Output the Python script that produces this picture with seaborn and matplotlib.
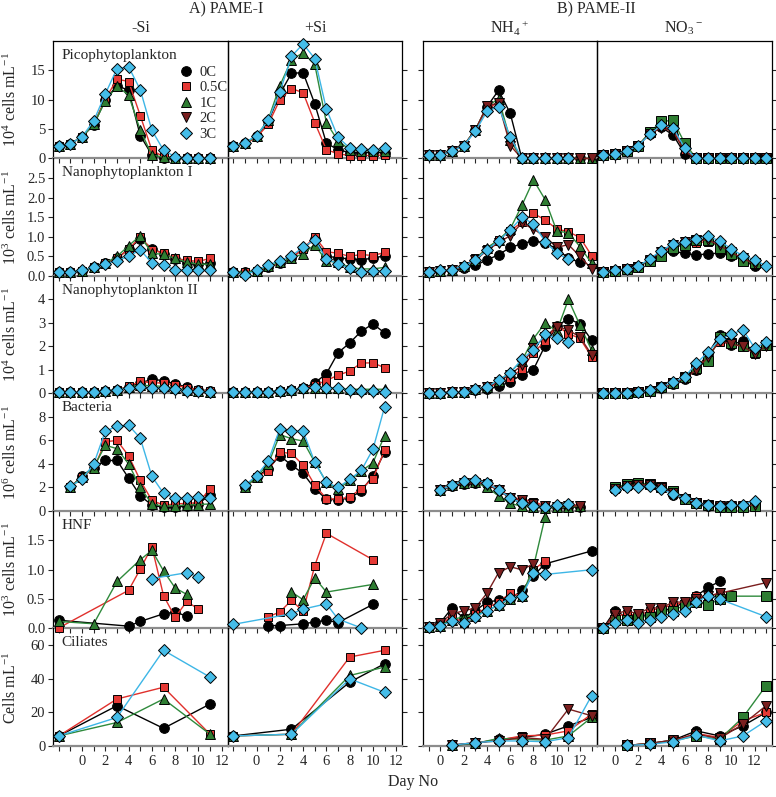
import numpy as np
import pandas as pd
import matplotlib
matplotlib.use("Agg")
import matplotlib.pyplot as plt
import seaborn as sns
from matplotlib.lines import Line2D
from matplotlib.ticker import FixedLocator, MultipleLocator, FormatStrFormatter

sns.set_style("ticks")
plt.rcParams['font.family'] = ['Liberation Serif', 'DejaVu Serif']
plt.rcParams['mathtext.fontset'] = 'custom'
plt.rcParams['mathtext.rm'] = 'Liberation Serif'
plt.rcParams['mathtext.it'] = 'Liberation Serif:italic'
plt.rcParams['mathtext.bf'] = 'Liberation Serif:bold'

nan = np.nan
treatments = ['0C', '0.5C', '1C', '2C', '3C']
days_pame1 = list(range(-2, 12))
days_pame2 = list(range(-1, 14))
no2c = [nan] * 14   # 2C not run in PAME-I

# each panel: rows = 0C, 0.5C, 1C, 2C, 3C
pico_msi = [[2.1, 2.5, 3.7, 5.7, 10.0, 12.4, 11.6, 3.9, 0.6, 0.1, 0, 0, 0, 0],
            [2.1, 2.5, 3.7, 5.9, 10.1, 13.5, 13.1, 7.3, 1.4, 0.3, 0.1, 0, 0, 0],
            [2.1, 2.5, 3.7, 5.8, 9.8, 12.3, 10.8, 4.8, 0.6, 0.2, 0, 0, 0, 0],
            no2c,
            [2.1, 2.5, 3.7, 6.4, 11.0, 15.3, 15.6, 11.7, 4.8, 1.4, 0.3, 0.05, 0, 0]]
pico_psi = [[2.1, 2.6, 3.8, 6.3, 11.0, 14.5, 14.6, 9.3, 2.6, 1.5, 1.0, 1.0, 1.0, 1.0],
            [2.1, 2.5, 3.6, 5.8, 10.0, 11.9, 11.2, 6.1, 1.5, 0.8, 0.5, 0.5, 0.5, 0.6],
            [2.1, 2.6, 3.8, 6.6, 12.4, 16.8, 18.0, 16.0, 6.1, 3.0, 1.5, 1.3, 1.3, 1.3],
            no2c,
            [2.2, 2.7, 3.9, 6.5, 11.3, 17.4, 19.5, 17.0, 8.4, 3.6, 1.8, 1.6, 1.5, 1.7]]
pico_nh4 = [[0.6, 0.6, 1.2, 2.2, 4.8, 8.8, 11.6, 7.7, 0, 0, 0, 0, 0, 0, nan],
            [0.6, 0.6, 1.2, 2.2, 4.8, 8.5, 9.5, 3.0, 0, 0, 0, 0, 0, 0, 0],
            [0.6, 0.6, 1.2, 2.2, 4.9, 8.8, 10.2, 3.2, 0, 0, 0, 0, 0, 0, 0],
            [0.6, 0.6, 1.2, 2.2, 4.8, 9.0, 9.4, 2.2, 0, 0, 0, 0, 0, 0, 0],
            [0.6, 0.6, 1.2, 2.2, 4.6, 8.0, 8.8, 3.7, 0, 0, 0, 0, 0, nan, nan]]
pico_no3 = [[0.6, 0.7, 1.2, 2.2, 4.2, 5.3, 4.0, 0.8, 0, 0, 0, 0, 0, 0, 0],
            [0.6, 0.7, 1.2, 2.2, 4.3, 5.5, 5.0, 1.5, 0, 0, 0, 0, 0, 0, 0],
            [0.6, 0.7, 1.2, 2.2, 4.5, 6.3, 6.5, 2.6, 0, 0, 0, 0, 0, 0, 0],
            [0.6, 0.7, 1.2, 2.2, 4.2, 5.2, 4.6, 1.2, 0, 0, 0, 0, 0, 0, 0],
            [0.6, 0.7, 1.2, 2.2, 4.1, 5.7, 5.2, 1.8, 0, 0, 0, 0, 0, 0, 0]]

nano1_msi = [[0.11, 0.11, 0.13, 0.22, 0.33, 0.45, 0.68, 0.95, 0.7, 0.57, 0.43, 0.33, 0.3, 0.32],
             [0.11, 0.11, 0.13, 0.22, 0.33, 0.45, 0.68, 1.0, 0.67, 0.58, 0.45, 0.4, 0.37, 0.45],
             [0.11, 0.11, 0.13, 0.22, 0.33, 0.5, 0.77, 1.03, 0.58, 0.55, 0.45, 0.35, 0.3, 0.3],
             no2c,
             [0.11, 0.11, 0.14, 0.22, 0.31, 0.39, 0.5, 0.67, 0.33, 0.29, 0.15, 0.14, 0.16, 0.14]]
nano1_psi = [[0.11, 0.09, 0.13, 0.22, 0.33, 0.45, 0.7, 0.95, 0.5, 0.47, 0.43, 0.42, 0.45, 0.52],
             [0.11, 0.09, 0.13, 0.22, 0.33, 0.45, 0.7, 1.0, 0.62, 0.58, 0.5, 0.55, 0.52, 0.6],
             [0.11, 0.09, 0.13, 0.25, 0.35, 0.45, 0.57, 0.8, 0.38, 0.35, 0.22, 0.18, 0.18, 0.22],
             no2c,
             [0.11, 0.03, 0.14, 0.28, 0.39, 0.52, 0.73, 0.93, 0.43, 0.31, 0.2, 0.11, 0.13, 0.13]]
nano1_nh4 = [[0.11, 0.12, 0.14, 0.2, 0.27, 0.41, 0.54, 0.73, 0.82, 0.9, 0.84, 0.7, 0.45, 0.35, nan],
             [0.11, 0.13, 0.15, 0.25, 0.45, 0.7, 0.92, 1.15, 1.37, 1.6, 1.43, 1.2, 1.13, 0.98, 0.52],
             [0.11, 0.13, 0.16, 0.25, 0.42, 0.72, 0.92, 1.2, 1.8, 2.45, 1.95, 1.15, 1.1, 0.75, 0.32],
             [0.11, 0.13, 0.15, 0.24, 0.4, 0.65, 0.85, 1.03, 1.35, 1.2, 1.0, 0.73, 0.8, 0.5, 0.18],
             [0.11, 0.14, 0.16, 0.26, 0.41, 0.67, 0.9, 1.17, 1.5, 1.33, 0.88, 0.58, 0.43, nan, nan]]
nano1_no3 = [[0.11, 0.13, 0.17, 0.24, 0.4, 0.58, 0.63, 0.58, 0.53, 0.57, 0.58, 0.52, 0.4, 0.25, nan],
             [0.11, 0.13, 0.17, 0.24, 0.4, 0.6, 0.75, 0.8, 0.85, 0.88, 0.8, 0.6, 0.45, 0.3, nan],
             [0.11, 0.13, 0.17, 0.24, 0.38, 0.52, 0.72, 0.8, 0.93, 0.93, 0.72, 0.55, 0.37, 0.32, nan],
             [0.11, 0.13, 0.17, 0.24, 0.42, 0.62, 0.8, 0.88, 0.9, 0.92, 0.78, 0.6, 0.45, 0.3, nan],
             [0.11, 0.14, 0.18, 0.25, 0.44, 0.65, 0.82, 0.86, 0.95, 1.01, 0.9, 0.69, 0.52, 0.41, 0.26]]

nano2_msi = [[0.07, 0.07, 0.07, 0.08, 0.12, 0.15, 0.28, 0.45, 0.6, 0.55, 0.4, 0.28, 0.15, 0.12],
             [0.07, 0.07, 0.07, 0.08, 0.12, 0.15, 0.3, 0.52, 0.45, 0.45, 0.35, 0.25, 0.15, 0.1],
             [0.07, 0.07, 0.07, 0.08, 0.12, 0.15, 0.27, 0.35, 0.33, 0.3, 0.22, 0.15, 0.1, 0.08],
             no2c,
             [0.07, 0.07, 0.07, 0.08, 0.12, 0.15, 0.25, 0.27, 0.25, 0.25, 0.17, 0.12, 0.1, 0.07]]
nano2_psi = [[0.07, 0.07, 0.07, 0.08, 0.12, 0.15, 0.22, 0.45, 0.84, 1.73, 2.15, 2.65, 2.96, 2.58],
             [0.07, 0.07, 0.07, 0.08, 0.12, 0.15, 0.22, 0.35, 0.55, 0.78, 0.95, 1.3, 1.3, 1.1],
             [0.07, 0.07, 0.07, 0.08, 0.12, 0.15, 0.22, 0.25, 0.25, 0.22, 0.18, 0.18, 0.18, 0.18],
             no2c,
             [0.07, 0.07, 0.07, 0.08, 0.12, 0.15, 0.22, 0.27, 0.22, 0.23, 0.13, 0.1, 0.12, 0.07]]
nano2_nh4 = [[0.04, 0.04, 0.05, 0.07, 0.15, 0.18, 0.3, 0.5, 0.8, 1.02, 2.04, 2.87, 3.18, 2.96, 2.27],
             [0.04, 0.04, 0.05, 0.07, 0.15, 0.25, 0.45, 0.65, 1.05, 1.73, 2.23, 2.87, 2.55, 2.34, 1.56],
             [0.04, 0.04, 0.05, 0.07, 0.17, 0.28, 0.55, 0.9, 1.4, 2.33, 3.0, 2.65, 4.0, 2.9, 1.84],
             [0.04, 0.04, 0.05, 0.07, 0.16, 0.26, 0.5, 0.8, 1.2, 1.95, 2.4, 2.85, 2.7, 2.4, 1.65],
             [0.04, 0.04, 0.05, 0.07, 0.18, 0.28, 0.57, 0.88, 1.45, 1.87, 2.51, 2.37, 2.18, nan, nan]]
nano2_no3 = [[0.04, 0.04, 0.04, 0.05, 0.12, 0.25, 0.42, 0.62, 1.02, 1.7, 2.47, 2.08, 2.23, 1.73, 2.06],
             [0.04, 0.04, 0.04, 0.05, 0.12, 0.25, 0.44, 0.65, 1.0, 1.6, 2.2, 2.1, 2.05, 1.7, 2.0],
             [0.04, 0.04, 0.04, 0.05, 0.12, 0.26, 0.44, 0.68, 1.1, 1.38, 2.4, 2.15, 2.0, 1.75, 2.05],
             [0.04, 0.04, 0.04, 0.05, 0.12, 0.25, 0.43, 0.65, 1.0, 1.55, 2.25, 2.1, 2.0, 1.7, 2.0],
             [0.04, 0.04, 0.04, 0.05, 0.13, 0.28, 0.47, 0.7, 1.28, 1.76, 2.3, 2.51, 2.72, 1.94, 2.18]]

bact_msi = [[nan, 2.0, 3.0, 3.7, 4.3, 4.3, 2.8, 1.3, 0.5, 0.3, 0.35, 0.4, 0.6, 1.4],
            [nan, 2.0, 2.9, 3.6, 5.9, 6.0, 4.7, 2.6, 0.9, 0.5, 0.6, 0.65, 0.7, 1.9],
            [nan, 2.0, 2.9, 3.7, 5.6, 5.3, 4.0, 2.0, 0.6, 0.4, 0.45, 0.5, 0.55, 0.6],
            no2c,
            [nan, 2.1, 2.7, 4.0, 6.8, 7.2, 7.3, 6.2, 2.95, 1.5, 1.1, 1.1, 1.15, 1.1]]
bact_psi = [[nan, 2.0, 2.9, 3.6, 4.7, 3.9, 3.2, 1.9, 1.0, 0.95, 1.1, 1.7, 3.0, 5.0],
            [nan, 2.0, 2.9, 3.4, 5.0, 4.9, 3.9, 2.2, 1.05, 1.0, 1.2, 1.9, 2.75, 5.15],
            [nan, 2.0, 2.9, 4.0, 6.5, 6.15, 5.95, 4.15, 2.45, 1.85, 2.6, 3.4, 4.1, 6.4],
            no2c,
            [nan, 2.2, 3.0, 4.25, 7.0, 6.8, 6.8, 4.15, 2.45, 2.0, 2.7, 3.45, 5.25, 8.85]]
bact_nh4 = [[nan, 1.8, 2.1, 2.3, 2.35, 2.3, 1.8, 1.1, 0.65, 0.4, 0.3, 0.3, 0.3, 0.35, nan],
            [nan, 1.8, 2.2, 2.4, 2.5, 2.35, 1.9, 1.2, 1.0, 0.8, 0.45, 0.4, 0.45, 0.55, nan],
            [nan, 1.8, 2.2, 2.4, 2.45, 2.0, 1.3, 0.65, 0.4, 0.3, 0.25, 0.3, 0.35, 0.4, nan],
            [nan, 1.8, 2.15, 2.35, 2.4, 2.25, 1.75, 1.1, 0.9, 0.6, 0.4, 0.35, 0.4, 0.45, nan],
            [nan, 1.8, 2.2, 2.55, 2.6, 2.4, 1.8, 1.13, 0.65, 0.43, 0.37, 0.48, 0.62, nan, nan]]
bact_no3 = [[nan, 1.9, 2.1, 2.2, 2.2, 2.0, 1.4, 1.0, 0.7, 0.45, 0.45, 0.45, 0.4, 0.45, nan],
            [nan, 1.9, 2.15, 2.3, 2.25, 2.0, 1.55, 1.05, 0.7, 0.47, 0.4, 0.4, 0.4, 0.45, nan],
            [nan, 2.0, 2.27, 2.41, 2.27, 2.04, 1.7, 1.05, 0.71, 0.48, 0.37, 0.37, 0.37, 0.43, nan],
            [nan, 1.9, 2.1, 2.25, 2.2, 1.95, 1.5, 1.05, 0.7, 0.45, 0.42, 0.42, 0.42, 0.5, nan],
            [nan, 1.79, 2.0, 2.07, 2.13, 1.9, 1.42, 1.13, 0.71, 0.48, 0.43, 0.48, 0.54, 0.85, nan]]

hnf_msi = [[0.14, nan, nan, nan, nan, nan, 0.04, 0.12, nan, 0.25, 0.28, 0.21, nan, nan],
           [0.01, nan, nan, nan, nan, nan, 0.65, 1.01, 1.39, 0.56, 0.19, 0.46, 0.33, nan],
           [0.12, nan, nan, 0.08, nan, 0.8, nan, 1.17, 1.33, 0.98, 0.69, 0.58, nan, nan],
           no2c,
           [nan, nan, nan, nan, nan, nan, nan, nan, 0.85, nan, nan, 0.95, 0.88, nan]]
hnf_psi = [[nan, nan, nan, 0.05, 0.05, nan, 0.08, 0.11, 0.14, 0.1, nan, nan, 0.41, nan],
           [nan, nan, nan, 0.2, 0.28, 0.48, 0.29, 1.07, 1.62, nan, nan, nan, 1.17, nan],
           [nan, nan, nan, nan, nan, 0.62, 0.49, 0.86, 0.62, nan, nan, nan, 0.75, nan],
           no2c,
           [0.07, nan, nan, nan, nan, 0.25, 0.33, nan, 0.42, 0.16, nan, 0.01, nan, nan]]
hnf_nh4 = [[0.02, 0.1, 0.35, 0.18, 0.3, 0.45, 0.48, 0.5, 0.65, 0.9, 1.1, nan, nan, nan, 1.32],
           [0.02, 0.08, 0.2, 0.1, 0.25, 0.35, 0.45, 0.6, 0.55, 1.0, 1.15, nan, nan, nan, nan],
           [0.02, 0.05, 0.15, 0.2, 0.22, 0.3, 0.4, 0.5, 0.55, 1.05, 1.9, nan, nan, nan, nan],
           [0.02, 0.1, 0.25, 0.3, 0.35, 0.6, 0.95, 1.05, 1.0, 1.1, nan, nan, nan, nan, nan],
           [0.02, 0.05, 0.12, 0.1, 0.2, 0.3, 0.4, 0.52, 0.55, 0.95, 0.92, nan, nan, nan, 1.0]]
hnf_no3 = [[0.01, 0.3, 0.2, 0.2, 0.25, 0.3, 0.35, 0.45, 0.55, 0.7, 0.8, nan, nan, nan, nan],
           [0.01, 0.2, 0.25, 0.22, 0.3, 0.35, 0.4, 0.45, 0.55, 0.55, 0.6, nan, nan, nan, nan],
           [0.01, 0.15, 0.15, 0.2, 0.2, 0.3, 0.3, 0.4, 0.45, 0.4, 0.5, 0.55, nan, nan, 0.55],
           [0.01, 0.25, 0.3, 0.25, 0.35, 0.35, 0.45, 0.45, 0.5, 0.55, 0.6, nan, nan, nan, 0.78],
           [0.01, 0.1, 0.15, 0.1, 0.15, 0.2, 0.25, 0.3, 0.45, 0.55, 0.5, nan, nan, nan, 0.2]]

cil_msi = [[6, nan, nan, nan, nan, 24, nan, nan, nan, 10.5, nan, nan, nan, 25],
           [6, nan, nan, nan, nan, 28, nan, nan, nan, 35, nan, nan, nan, 7],
           [6, nan, nan, nan, nan, 14, nan, nan, nan, 28, nan, nan, nan, 7],
           no2c,
           [6, nan, nan, nan, nan, 17, nan, nan, nan, 57, nan, nan, nan, 41]]
cil_psi = [[6, nan, nan, nan, nan, 10, nan, nan, nan, nan, 38, nan, nan, 49],
           [6, nan, nan, nan, nan, 7, nan, nan, nan, nan, 53, nan, nan, 57],
           [6, nan, nan, nan, nan, 7, nan, nan, nan, nan, 42, nan, nan, 47],
           no2c,
           [6, nan, nan, nan, nan, 7, nan, nan, nan, nan, 40, nan, nan, 32]]
cil_nh4 = [[nan, nan, 0.5, nan, 1.5, nan, 4, nan, 5, nan, 7, nan, 12, nan, 17],
           [nan, nan, 0.5, nan, 2, nan, 3.5, nan, 6, nan, 6.5, nan, 9, nan, 19],
           [nan, nan, 0.5, nan, 1.5, nan, 4.5, nan, 4, nan, 3.5, nan, 6, nan, 17],
           [nan, nan, 0.5, nan, 2, nan, 3, nan, 5, nan, 4, nan, 22, nan, 18],
           [nan, nan, 0.5, nan, 2, nan, 3, nan, 3, nan, 2.5, nan, 5, nan, 30]]
cil_no3 = [[nan, nan, 0.3, nan, 1.5, nan, 3.5, nan, 9, nan, 6, nan, 12, nan, 20],
           [nan, nan, 0.3, nan, 1.5, nan, 3, nan, 7.5, nan, 5, nan, 15, nan, 20],
           [nan, nan, 0.3, nan, 1.5, nan, 3, nan, 6, nan, 4, nan, 17, nan, 36],
           [nan, nan, 0.3, nan, 1.5, nan, 3.5, nan, 7, nan, 4.5, nan, 13, nan, 24],
           [nan, nan, 0.3, nan, 1, nan, 2.5, nan, 6.5, nan, 3, nan, 6, nan, 15]]

row_names = ['Picophytoplankton', 'Nanophytoplankton I', 'Nanophytoplankton II',
             'Bacteria', 'HNF', 'Ciliates']
row_ylabels = ['10$^4$ cells mL$^{-1}$', '10$^3$ cells mL$^{-1}$', '10$^4$ cells mL$^{-1}$',
               '10$^6$ cells mL$^{-1}$', '10$^3$ cells mL$^{-1}$', 'Cells mL$^{-1}$']
row_ylim = [20, 3, 5, 10, 2, 70]
row_yticks = [[0, 5, 10, 15], [0, 0.5, 1.0, 1.5, 2.0, 2.5], [0, 1, 2, 3, 4],
              [0, 2, 4, 6, 8], [0, 0.5, 1.0, 1.5], [0, 20, 40, 60]]
row_yfmt = ['%d', '%.1f', '%d', '%d', '%.1f', '%d']
day_ticks = [0, 2, 4, 6, 8, 10, 12]
col_titles = ['-Si', '+Si', 'NH$_4$$^+$', 'NO$_3$$^-$']

panels = [[pico_msi, pico_psi, pico_nh4, pico_no3],
          [nano1_msi, nano1_psi, nano1_nh4, nano1_no3],
          [nano2_msi, nano2_psi, nano2_nh4, nano2_no3],
          [bact_msi, bact_psi, bact_nh4, bact_no3],
          [hnf_msi, hnf_psi, hnf_nh4, hnf_no3],
          [cil_msi, cil_psi, cil_nh4, cil_no3]]

line_col = {'0C': '#000000', '0.5C': '#e0302c', '1C': '#2f8a3c', '2C': '#7a1e1e', '3C': '#3db6e6'}
face_col = {'0C': '#000000', '0.5C': '#e53935', '1C': '#2e7d32', '2C': '#7b1f1f', '3C': '#45bde9'}
markers = {'0C': 'o', '0.5C': 's', '1C': '^', '2C': 'v', '3C': 'D'}
msizes = {'0C': 7, '0.5C': 6, '1C': 6.5, '2C': 6.5, '3C': 6}

fig = plt.figure(figsize=(7.76, 7.97), dpi=100)
gs = fig.add_gridspec(6, 5, width_ratios=[1, 1, 0.12, 1, 1],
                      left=0.0683, right=0.9948, top=0.9486, bottom=0.064,
                      hspace=0, wspace=0)
col_slots = [0, 1, 3, 4]

for r in range(6):
    for c in range(4):
        ax = fig.add_subplot(gs[r, col_slots[c]])
        ax.set_facecolor('none')
        days = days_pame1 if c < 2 else days_pame2
        data = panels[r][c]
        for k, t in enumerate(treatments):
            m = markers[t]
            if c == 3 and t == '1C':
                m = 's'
            df = pd.DataFrame({'day': days, 'value': data[k]}).dropna()
            if df.empty:
                continue
            sns.lineplot(data=df, x='day', y='value', ax=ax, color=line_col[t],
                         marker=m, markersize=msizes[t], markerfacecolor=face_col[t],
                         markeredgecolor='black', markeredgewidth=0.7, linewidth=1,
                         estimator=None, sort=True, legend=False, clip_on=False,
                         zorder=3 + k)
        if c < 2:
            ax.set_xlim(-2.5, 12.5)
        else:
            ax.set_xlim(-1.5, 13.5)
        ax.set_ylim(0, row_ylim[r])
        ax.set_xlabel('')
        ax.set_ylabel('')
        ax.xaxis.set_major_locator(FixedLocator(day_ticks))
        ax.xaxis.set_minor_locator(MultipleLocator(1))
        ax.yaxis.set_major_locator(FixedLocator(row_yticks[r]))
        ax.yaxis.set_major_formatter(FormatStrFormatter(row_yfmt[r]))
        ax.tick_params(axis='x', which='both', direction='out', length=3.5, width=0.8,
                       labelsize=10.5, labelbottom=(r == 5), pad=3)
        ax.tick_params(axis='y', direction='out', length=3.5, width=0.8, labelsize=10.5, pad=2)
        if c in (1, 3):
            ax.yaxis.tick_right()
            ax.tick_params(axis='y', labelright=False)
        if c != 0:
            ax.tick_params(axis='y', labelleft=False)
        for s in ['left', 'right']:
            ax.spines[s].set_color('black')
            ax.spines[s].set_linewidth(0.9)
        ax.spines['bottom'].set_color('#8c8c8c')
        ax.spines['bottom'].set_linewidth(1.6)
        ax.spines['top'].set_color('black')
        ax.spines['top'].set_linewidth(0.9)
        ax.spines['top'].set_visible(r == 0)
        if c == 0:
            ax.set_ylabel(row_ylabels[r], fontsize=11.5)
            ax.yaxis.set_label_coords(-0.19, 0.5)
            ax.text(0.05, 0.88, row_names[r], transform=ax.transAxes,
                    fontsize=11, va='center', ha='left')
        if r == 0 and c == 0:
            handles = [Line2D([], [], ls='none', marker=markers[t], markersize=msizes[t],
                              markerfacecolor=face_col[t], markeredgecolor='black',
                              markeredgewidth=0.7, label=t) for t in treatments]
            ax.legend(handles=handles, loc='upper left', bbox_to_anchor=(0.68, 0.85),
                      frameon=False, fontsize=10.5, handlelength=1.0,
                      handletextpad=0.4, labelspacing=0.15, borderpad=0)

fig.text(0.292, 0.988, 'A) PAME-I', ha='center', va='center', fontsize=11.5)
fig.text(0.768, 0.988, 'B) PAME-II', ha='center', va='center', fontsize=11.5)
for x, t in zip([0.181, 0.406, 0.656, 0.881], col_titles):
    fig.text(x, 0.965, t, ha='center', va='center', fontsize=11.5)
fig.text(0.532, 0.019, 'Day No', ha='center', va='center', fontsize=11.5)

fig.savefig('out.png', dpi=100)
